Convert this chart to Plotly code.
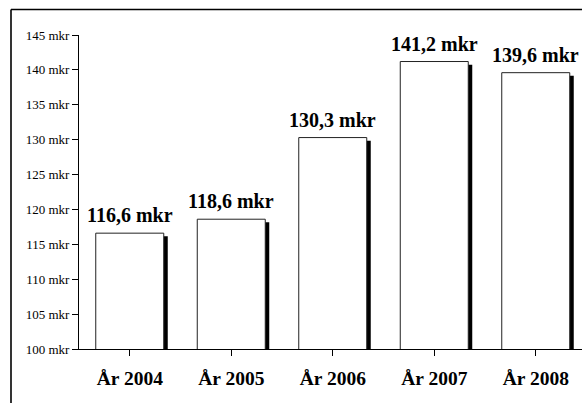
import plotly.graph_objects as go

categories = ["År 2004", "År 2005", "År 2006", "År 2007", "År 2008"]
values = [116.6, 118.6, 130.3, 141.2, 139.6]
labels = ["116,6 mkr", "118,6 mkr", "130,3 mkr", "141,2 mkr", "139,6 mkr"]
ytick_vals = [100, 105, 110, 115, 120, 125, 130, 135, 140, 145]
ytick_text = [f"{v} mkr" for v in ytick_vals]

W, H = 582, 403
ML, MT, MB, MR = 79, 35, 54, 0
PW, PH = W - ML - MR, H - MT - MB
cat_px = 101.5
bar_w = 0.67
shadow_dx = 4 / cat_px
FONT = "Liberation Serif"

fig = go.Figure()
# shadow
fig.add_trace(go.Bar(
    x=list(range(len(categories))), y=values, base=-0.45,
    width=bar_w, offset=-bar_w / 2 + shadow_dx,
    marker=dict(color="black", line=dict(width=0)),
    hoverinfo="skip", showlegend=False,
))
# main bars
fig.add_trace(go.Bar(
    x=list(range(len(categories))), y=values,
    width=bar_w, offset=-bar_w / 2,
    marker=dict(color="white", line=dict(color="#222", width=1)),
    showlegend=False,
))

for i, (v, t) in enumerate(zip(values, labels)):
    fig.add_annotation(x=i, y=v, text=f"<b>{t}</b>", showarrow=False,
                       yanchor="bottom", yshift=5,
                       font=dict(family=FONT, size=20, color="black"))

def px_x(p):
    return (p - ML) / PW

def px_y(p):
    return (H - MB - p) / PH

fig.add_shape(type="line", xref="paper", yref="paper",
              x0=px_x(11), x1=px_x(600), y0=px_y(9.5), y1=px_y(9.5),
              line=dict(color="black", width=1.6))
fig.add_shape(type="line", xref="paper", yref="paper",
              x0=px_x(11), x1=px_x(11), y0=px_y(9.5), y1=px_y(420),
              line=dict(color="black", width=1.6))

fig.update_layout(
    width=W, height=H,
    margin=dict(l=ML, r=MR, t=MT, b=MB, pad=0),
    paper_bgcolor="white", plot_bgcolor="white",
    barmode="overlay",
    font=dict(family=FONT, color="black"),
)
fig.update_xaxes(
    range=[-0.5, -0.5 + PW / cat_px],
    tickvals=list(range(len(categories))), ticktext=[f"<b>{c}</b>" for c in categories],
    tickson="boundaries", ticks="outside", ticklen=6, tickcolor="black",
    showline=True, linecolor="black", linewidth=1,
    showgrid=False, zeroline=False,
    tickfont=dict(family=FONT, size=19.5, color="black"),
    ticklabelstandoff=6,
)
fig.update_yaxes(
    range=[100, 145], tickvals=ytick_vals, ticktext=ytick_text,
    ticks="outside", ticklen=6, tickcolor="black",
    showline=True, linecolor="black", linewidth=1,
    showgrid=False, zeroline=False,
    tickfont=dict(family=FONT, size=13, color="black"),
)

fig.write_html("out.html", config={"displayModeBar": False},
               post_script="document.body.style.margin='0';document.body.style.overflow='hidden';")
